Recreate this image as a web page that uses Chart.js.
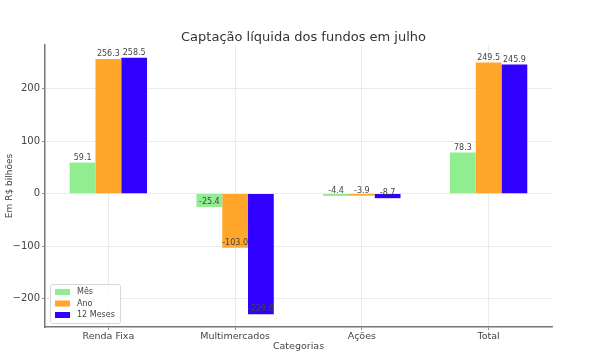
<!DOCTYPE html>
<html>
<head>
<meta charset="utf-8">
<script src="https://cdn.jsdelivr.net/npm/chart.js@4.4.1/dist/chart.umd.min.js"></script>
<style>
  html, body { margin: 0; padding: 0; background: #fff; }
  #wrap { width: 613px; height: 364px; }
</style>
</head>
<body>
<div id="wrap"><canvas id="c" width="613" height="364"></canvas></div>
<script>
const categories = ["Renda Fixa", "Multimercados", "Ações", "Total"];
const seriesNames = ["Mês", "Ano", "12 Meses"];
const mes = [59.1, -25.4, -4.4, 78.3];
const ano = [256.3, -103.0, -3.9, 249.5];
const dozeMeses = [258.5, -229.6, -8.7, 245.9];
const yTicks = [-200, -100, 0, 100, 200];
const colors = ["#90EE90", "#FFA62B", "#3000FF"];
const chartTitle = "Captação líquida dos fundos em julho";

const FONT = "'DejaVu Sans', sans-serif";
const TEXT = "#444444";

const valueLabels = {
  id: "valueLabels",
  afterDatasetsDraw(chart) {
    const ctx = chart.ctx;
    ctx.save();
    ctx.font = "8px " + FONT;
    ctx.fillStyle = TEXT;
    ctx.textAlign = "center";
    ctx.textBaseline = "bottom";
    chart.data.datasets.forEach((ds, i) => {
      const meta = chart.getDatasetMeta(i);
      meta.data.forEach((el, j) => {
        ctx.fillText(ds.data[j].toFixed(1), el.x, el.y - 1);
      });
    });
    ctx.restore();
  }
};

const topTitle = {
  id: "topTitle",
  afterDraw(chart) {
    const ctx = chart.ctx;
    const a = chart.chartArea;
    ctx.save();
    ctx.font = "13px " + FONT;
    ctx.fillStyle = "#333333";
    ctx.textAlign = "center";
    ctx.textBaseline = "middle";
    ctx.fillText(chartTitle, (a.left + a.right) / 2 + 5, 38);
    ctx.restore();
  }
};

const innerLegend = {
  id: "innerLegend",
  afterDraw(chart) {
    const ctx = chart.ctx;
    const a = chart.chartArea;
    const x0 = a.left + 5, y0 = a.bottom - 43, w = 70, h = 39;
    ctx.save();
    ctx.fillStyle = "rgba(255,255,255,0.85)";
    ctx.strokeStyle = "#d8d8d8";
    ctx.lineWidth = 1;
    ctx.beginPath();
    ctx.roundRect(x0 + 0.5, y0 + 0.5, w, h, 2);
    ctx.fill();
    ctx.stroke();
    ctx.font = "8px " + FONT;
    ctx.textBaseline = "middle";
    ctx.textAlign = "left";
    chart.data.datasets.forEach((ds, i) => {
      const cy = y0 + 8 + i * 11.5;
      ctx.fillStyle = ds.backgroundColor;
      ctx.fillRect(x0 + 5, cy - 3, 15, 6);
      ctx.fillStyle = TEXT;
      ctx.fillText(ds.label, x0 + 27, cy);
    });
    ctx.restore();
  }
};

const datasets = [mes, ano, dozeMeses].map((d, i) => ({
  label: seriesNames[i],
  data: d,
  backgroundColor: colors[i],
  borderWidth: 0,
  categoryPercentage: 0.61,
  barPercentage: 1.0
}));

new Chart(document.getElementById("c"), {
  type: "bar",
  data: { labels: categories, datasets },
  options: {
    responsive: false,
    animation: false,
    layout: { padding: { left: 0, right: 61, top: 45, bottom: 0 } },
    plugins: {
      legend: { display: false },
      tooltip: { enabled: false },
      title: { display: false }
    },
    scales: {
      x: {
        grid: { offset: false, color: "#e6e6e6", lineWidth: 0.8, tickLength: 3, tickColor: "#777777", drawOnChartArea: true },
        border: { color: "#777777", width: 1.5 },
        ticks: { color: TEXT, font: { family: FONT, size: 9.5 }, padding: 1, maxRotation: 0 },
        title: { display: true, text: "Categorias", color: TEXT, font: { family: FONT, size: 9.5 }, padding: { top: 0, bottom: 12 } },
        afterFit(s) { s.height = 37; }
      },
      y: {
        min: -254,
        max: 283,
        afterBuildTicks(s) { s.ticks = yTicks.map(v => ({ value: v })); },
        grid: { color: "#e6e6e6", lineWidth: 0.8, tickLength: 3, tickColor: "#777777" },
        border: { color: "#777777", width: 1.5 },
        ticks: {
          color: TEXT,
          font: { family: FONT, size: 10 },
          padding: 2,
          callback: v => String(v).replace("-", "\u2212")
        },
        title: { display: true, text: "Em R$ bilhões", color: TEXT, font: { family: FONT, size: 9 }, padding: { top: 4, bottom: 0 } },
        afterFit(s) { s.width = 45; }
      }
    }
  },
  plugins: [valueLabels, topTitle, innerLegend]
});
</script>
</body>
</html>
